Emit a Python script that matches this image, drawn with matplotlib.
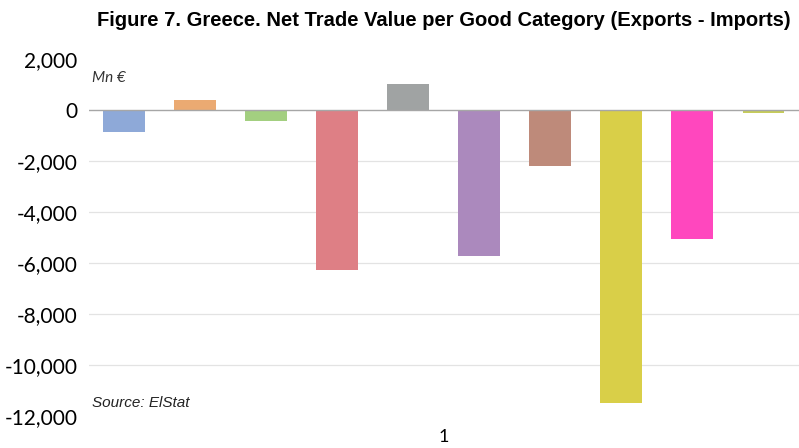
import matplotlib.pyplot as plt
from matplotlib.ticker import FuncFormatter

# net trade value (exports - imports) per good category, Mn EUR
categories = list(range(10))
net_values = [-870, 390, -430, -6270, 1020, -5730, -2200, -11500, -5060, -120]
bar_colors = ['#8EA9D8', '#EBAA72', '#A3CF80', '#DE7F85', '#A0A3A3',
              '#AB89BD', '#BE8A7A', '#D9CF48', '#FF47BE', '#C6CC5A']
y_ticks = [2000, 0, -2000, -4000, -6000, -8000, -10000, -12000]

fig = plt.figure(figsize=(7.99, 4.48), dpi=100)
ax = fig.add_axes([0.111, 0.0714, 0.889, 0.7966])

for y in y_ticks[2:-1]:
    ax.axhline(y, color='#E3E3E3', lw=0.9, zorder=0)
ax.axhline(0, color='#A6A6A6', lw=1.0, zorder=3)

ax.bar(categories, net_values, width=0.59, color=bar_colors, zorder=2)

ax.set_xlim(-0.5, 9.5)
ax.set_ylim(-12000, 2000)
ax.set_yticks(y_ticks)
ax.yaxis.set_major_formatter(FuncFormatter(lambda v, p: f'{int(v):,}'))
ax.set_xticks([4.5])
ax.set_xticklabels(['1'])
ax.tick_params(axis='y', length=0, pad=8, labelsize=15)
ax.tick_params(axis='x', length=0, pad=9, labelsize=13)
for lab in ax.get_yticklabels() + ax.get_xticklabels():
    lab.set_fontfamily('Lato')
for s in ax.spines.values():
    s.set_visible(False)

ax.text(0.005, 0.947, 'Mn €', transform=ax.transAxes, fontsize=11,
        style='italic', family='Lato', color='#333333', va='center')
ax.text(0.005, 0.037, 'Source: ElStat', transform=ax.transAxes, fontsize=11,
        style='italic', family='Liberation Sans', color='#222222', va='center')

fig.text(0.555, 0.955, 'Figure 7. Greece. Net Trade Value per Good Category (Exports - Imports)',
         ha='center', va='center', fontsize=14.5, fontweight='bold',
         family='Liberation Sans')

fig.savefig('out.png', dpi=100)
